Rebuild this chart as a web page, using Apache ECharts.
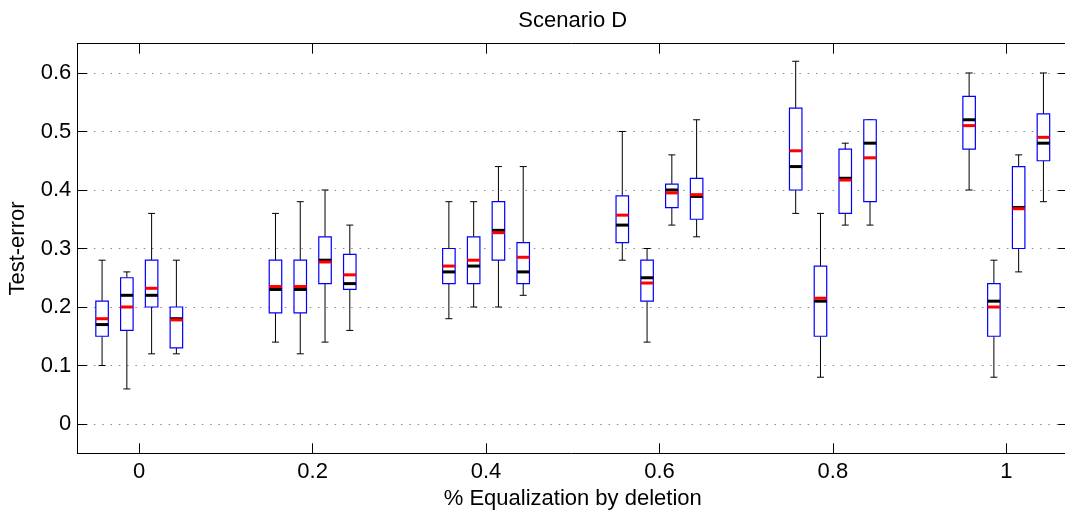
<!DOCTYPE html>
<html>
<head>
<meta charset="utf-8">
<script src="https://cdn.jsdelivr.net/npm/echarts@6/dist/echarts.min.js"></script>
<style>
  html, body { margin: 0; padding: 0; background: #fff; }
  #chart { width: 1065px; height: 516px; }
</style>
</head>
<body>
<div id="chart"></div>
<script>
// Groups along x and the four methods placed around each group
const groups = [0, 0.2, 0.4, 0.6, 0.8, 1];
const methodSlots = [-1.5, -0.5, 0.5, 1.5];
const slotStep = 0.2 / 7;

// Box statistics, one row per group, four methods per row
const whiskerLow = [
  0.10, 0.06, 0.12, 0.12,
  0.14, 0.12, 0.14, 0.16,
  0.18, 0.20, 0.20, 0.22,
  0.28, 0.14, 0.34, 0.32,
  0.36, 0.08, 0.34, 0.34,
  0.40, 0.08, 0.26, 0.38
];
const quartile1 = [
  0.15, 0.16, 0.20, 0.13,
  0.19, 0.19, 0.24, 0.23,
  0.24, 0.24, 0.28, 0.24,
  0.31, 0.21, 0.37, 0.35,
  0.40, 0.15, 0.36, 0.38,
  0.47, 0.15, 0.30, 0.45
];
const medians = [
  0.17, 0.22, 0.22, 0.18,
  0.23, 0.23, 0.28, 0.24,
  0.26, 0.27, 0.331, 0.26,
  0.34, 0.25, 0.40, 0.389,
  0.44, 0.21, 0.42, 0.48,
  0.52, 0.21, 0.37, 0.48
];
const quartile3 = [
  0.21, 0.25, 0.28, 0.20,
  0.28, 0.28, 0.32, 0.29,
  0.30, 0.32, 0.38, 0.31,
  0.39, 0.28, 0.41, 0.42,
  0.54, 0.27, 0.47, 0.52,
  0.56, 0.24, 0.44, 0.53
];
const whiskerHigh = [
  0.28, 0.26, 0.36, 0.28,
  0.36, 0.38, 0.40, 0.34,
  0.38, 0.38, 0.44, 0.44,
  0.50, 0.30, 0.46, 0.52,
  0.62, 0.36, 0.48, 0.52,
  0.60, 0.28, 0.46, 0.60
];
const means = [
  0.18, 0.20, 0.232, 0.178,
  0.235, 0.235, 0.277, 0.255,
  0.27, 0.28, 0.327, 0.285,
  0.357, 0.241, 0.395, 0.392,
  0.467, 0.215, 0.417, 0.455,
  0.51, 0.20, 0.368, 0.49
];

const xTicks = [0, 0.2, 0.4, 0.6, 0.8, 1];
const yTicks = [0, 0.1, 0.2, 0.3, 0.4, 0.5, 0.6];

// Rows for the custom series: [x, low, q1, median, q3, high, mean]
const boxRows = [];
groups.forEach((g, gi) => {
  methodSlots.forEach((s, mi) => {
    const i = gi * methodSlots.length + mi;
    boxRows.push([g + s * slotStep, whiskerLow[i], quartile1[i], medians[i],
                  quartile3[i], whiskerHigh[i], means[i]]);
  });
});

const BOX_W = 12.5;
const CAP_W = 7;
const FONT = '"Liberation Sans", Arial, Helvetica, sans-serif';
const FONT_SIZE = 22;

function renderBox(params, api) {
  const x = api.value(0);
  const lo = api.coord([x, api.value(1)]);
  const q1 = api.coord([x, api.value(2)]);
  const md = api.coord([x, api.value(3)]);
  const q3 = api.coord([x, api.value(4)]);
  const hi = api.coord([x, api.value(5)]);
  const mn = api.coord([x, api.value(6)]);
  const cx = lo[0];
  const h = BOX_W / 2, c = CAP_W / 2;
  const whisker = { stroke: '#000', lineWidth: 1 };
  return {
    type: 'group',
    children: [
      { type: 'line', shape: { x1: cx, y1: q3[1], x2: cx, y2: hi[1] }, style: whisker },
      { type: 'line', shape: { x1: cx, y1: q1[1], x2: cx, y2: lo[1] }, style: whisker },
      { type: 'line', shape: { x1: cx - c, y1: hi[1], x2: cx + c, y2: hi[1] }, style: whisker },
      { type: 'line', shape: { x1: cx - c, y1: lo[1], x2: cx + c, y2: lo[1] }, style: whisker },
      { type: 'rect', shape: { x: cx - h, y: q3[1], width: BOX_W, height: q1[1] - q3[1] },
        style: { fill: '#fff', stroke: '#0000ff', lineWidth: 1.2 } },
      { type: 'line', shape: { x1: cx - h, y1: md[1], x2: cx + h, y2: md[1] },
        style: { stroke: '#000', lineWidth: 3 } },
      { type: 'line', shape: { x1: cx - h, y1: mn[1], x2: cx + h, y2: mn[1] },
        style: { stroke: '#ff0000', lineWidth: 3 } }
    ]
  };
}

const frameLine = { show: true, onZero: false, lineStyle: { color: '#000', width: 1 } };
const innerTick = (vals) => ({ show: true, inside: true, length: 10, customValues: vals,
                               lineStyle: { color: '#000', width: 1 } });
const textStyle = { color: '#000', fontFamily: FONT, fontSize: FONT_SIZE };
const xMin = -0.5 / 7, xMax = 1 + 0.5 / 7;

const chart = echarts.init(document.getElementById('chart'), null, { renderer: 'canvas' });
chart.setOption({
  animation: false,
  backgroundColor: '#fff',
  grid: { left: 77.3, top: 43.7, right: -3.2, bottom: 62.7, containLabel: false, outerBoundsMode: 'none' },
  xAxis: [
    {
      type: 'value', position: 'bottom', min: xMin, max: xMax,
      axisLine: frameLine, axisTick: innerTick(xTicks),
      axisLabel: Object.assign({ customValues: xTicks, formatter: v => String(v), margin: 8 }, textStyle),
      splitLine: { show: false },
      name: '% Equalization by deletion', nameLocation: 'middle', nameGap: 32,
      nameTextStyle: textStyle
    },
    {
      type: 'value', position: 'top', min: xMin, max: xMax,
      axisLine: frameLine, axisTick: innerTick(xTicks),
      axisLabel: { show: false }, splitLine: { show: false },
      name: 'Scenario D', nameLocation: 'middle', nameGap: 12,
      nameTextStyle: textStyle
    }
  ],
  yAxis: [
    {
      type: 'value', position: 'left', min: -0.05, max: 0.65,
      axisLine: frameLine, axisTick: innerTick(yTicks),
      axisLabel: Object.assign({ customValues: yTicks, formatter: v => String(v), margin: 6 }, textStyle),
      splitLine: { show: true, lineStyle: { color: '#8a8a8a', width: 1, type: [1.5, 6.8] } },
      name: 'Test-error', nameLocation: 'middle', nameGap: 48, nameRotate: 90,
      nameTextStyle: textStyle
    },
    {
      type: 'value', position: 'right', min: -0.05, max: 0.65,
      axisLine: { show: false, onZero: false }, axisTick: innerTick(yTicks),
      axisLabel: { show: false }, splitLine: { show: false }
    }
  ],
  series: [{
    type: 'custom',
    xAxisIndex: 0, yAxisIndex: 0,
    renderItem: renderBox,
    encode: { x: 0, y: [1, 2, 3, 4, 5, 6] },
    data: boxRows,
    silent: true
  }]
});
</script>
</body>
</html>
